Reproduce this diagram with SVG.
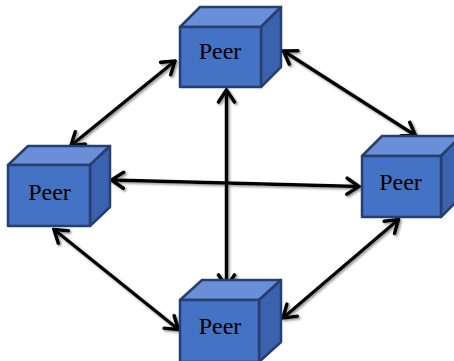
<svg xmlns="http://www.w3.org/2000/svg" width="454" height="361" viewBox="0 0 454 361">
<style>
.front{fill:#4472C4;stroke:#263F6E;stroke-width:2.5;stroke-linejoin:round}
.top{fill:#6A8FD8;stroke:#263F6E;stroke-width:2.5;stroke-linejoin:round}
.side{fill:#3A62AE;stroke:#263F6E;stroke-width:2.5;stroke-linejoin:round}
.lbl{font-family:"Liberation Serif","Times New Roman",serif;font-size:24px;fill:#000;text-anchor:middle}
.conn{stroke:#000;stroke-width:3.5;fill:none;marker-start:url(#head);marker-end:url(#head)}
</style>
<defs>
<marker id="head" markerUnits="userSpaceOnUse" viewBox="-16 -11 18 22" markerWidth="18" markerHeight="22" refX="0" refY="0" orient="auto-start-reverse">
<path d="M-12,-8 L0,0 L-12,8" fill="none" stroke="#000" stroke-width="3.6" stroke-linecap="round" stroke-linejoin="miter"/>
</marker>
<filter id="sh" x="-10%" y="-10%" width="120%" height="120%">
<feDropShadow dx="1.5" dy="1.5" stdDeviation="0.8" flood-color="#777" flood-opacity="0.8"/>
</filter>
</defs>
<g id="connectors" filter="url(#sh)">
<line class="conn" x1="175" y1="61" x2="71" y2="145.5"/>
<line class="conn" x1="283.5" y1="51" x2="415.5" y2="135.5"/>
<line class="conn" x1="226.5" y1="90" x2="226.5" y2="287"/>
<line class="conn" x1="111.5" y1="180" x2="359" y2="186.5"/>
<line class="conn" x1="54" y1="229.5" x2="178.5" y2="329.5"/>
<line class="conn" x1="398.5" y1="219.5" x2="283" y2="318"/>
</g>
<g id="peer-top">
<polygon class="top" points="180,27 200,7 281,7 261,27"/>
<polygon class="side" points="261,27 281,7 281,67 261,87"/>
<rect class="front" x="180" y="27" width="81" height="60"/>
<text class="lbl" x="220" y="59">Peer</text>
</g>
<g id="peer-left">
<polygon class="top" points="8,165 28,146 110,146 90,165"/>
<polygon class="side" points="90,165 110,146 110,207 90,226"/>
<rect class="front" x="8" y="165" width="82" height="61"/>
<text class="lbl" x="49.5" y="200">Peer</text>
</g>
<g id="peer-right">
<polygon class="top" points="362,156 382,136 461,136 441,156"/>
<polygon class="side" points="441,156 461,136 461,197 441,217"/>
<rect class="front" x="362" y="156" width="79" height="61"/>
<text class="lbl" x="400.5" y="190">Peer</text>
</g>
<g id="peer-bottom">
<polygon class="top" points="180,300 202,280 281,280 259,300"/>
<polygon class="side" points="259,300 281,280 281,342 259,362"/>
<rect class="front" x="180" y="300" width="79" height="62"/>
<text class="lbl" x="220" y="334">Peer</text>
</g>
</svg>
